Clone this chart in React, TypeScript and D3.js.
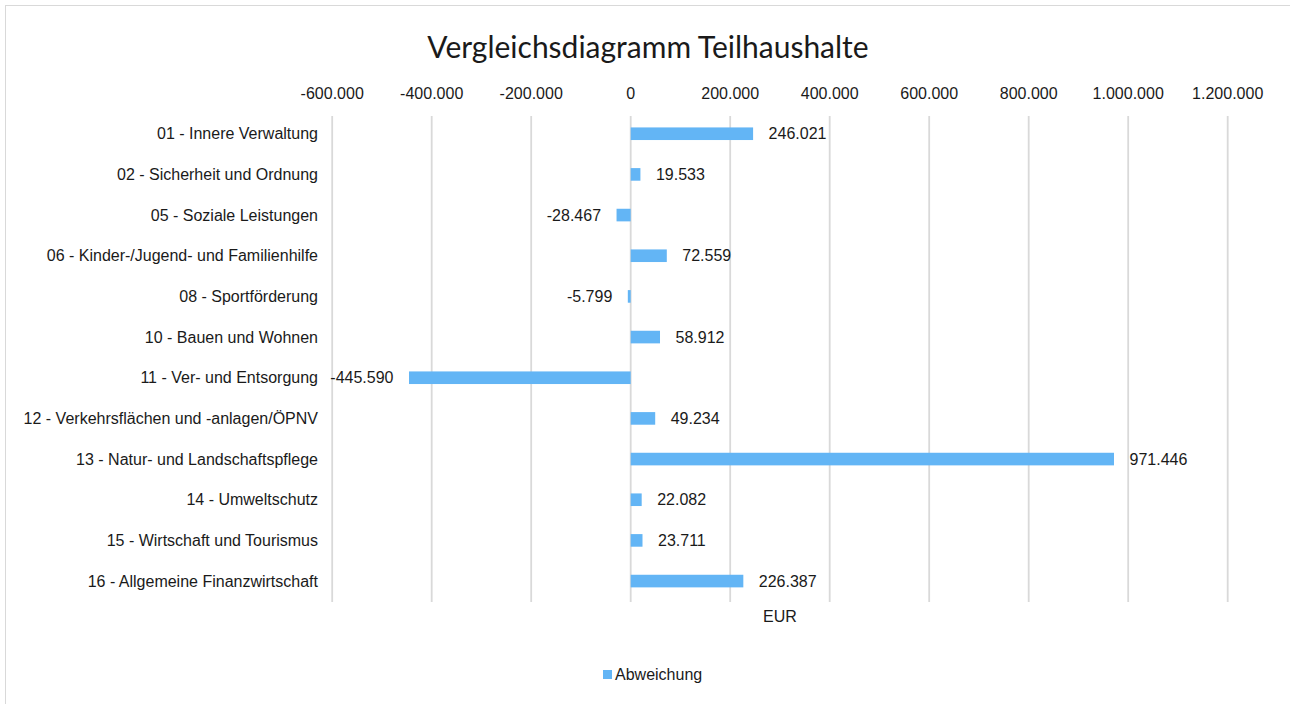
import React from "react";
import * as d3 from "d3";

const categories: string[] = [
  "01 - Innere Verwaltung",
  "02 - Sicherheit und Ordnung",
  "05 - Soziale Leistungen",
  "06 - Kinder-/Jugend- und Familienhilfe",
  "08 - Sportförderung",
  "10 - Bauen und Wohnen",
  "11 - Ver- und Entsorgung",
  "12 - Verkehrsflächen und -anlagen/ÖPNV",
  "13 - Natur- und Landschaftspflege",
  "14 - Umweltschutz",
  "15 - Wirtschaft und Tourismus",
  "16 - Allgemeine Finanzwirtschaft",
];
const values: number[] = [246021, 19533, -28467, 72559, -5799, 58912, -445590, 49234, 971446, 22082, 23711, 226387];
const ticks: number[] = [-600000, -400000, -200000, 0, 200000, 400000, 600000, 800000, 1000000, 1200000];
const seriesName = "Abweichung";
const axisTitle = "EUR";
const title = "Vergleichsdiagramm Teilhaushalte";

const fmt = (v: number) => {
  if (v === 0) return "0";
  const s = Math.abs(v).toString().replace(/\B(?=(\d{3})+(?!\d))/g, ".");
  return (v < 0 ? "-" : "") + s;
};

export default function App() {
  const W = 1290, H = 704;
  const x = d3.scaleLinear().domain([-600000, 1200000]).range([332.2, 1227.7]);
  const y = d3.scaleBand<string>().domain(categories).range([113.4, 601.4]).paddingInner(0.69).paddingOuter(0.345);
  const bh = y.bandwidth();
  const color = "#63b5f5";
  const font = "'Liberation Sans', Arial, sans-serif";
  const fs = 16;
  const textColor = "#1a1a1a";
  return (
    <svg width={W} height={H} style={{ position: "absolute", left: 0, top: 0, background: "#fff" }}>
      <rect x={5.5} y={5.5} width={1300} height={720} fill="#fff" stroke="#d9d9d9" strokeWidth={1} />
      <text x={648} y={58} textAnchor="middle" fontFamily="Lato, 'Open Sans', sans-serif" fontSize={30} fill={textColor}>
        {title}
      </text>
      {ticks.map((t) => (
        <g key={t}>
          <line x1={x(t)} x2={x(t)} y1={116} y2={602} stroke="#d9d9d9" strokeWidth={1.8} />
          <text x={x(t)} y={99} textAnchor="middle" fontFamily={font} fontSize={fs} fill={textColor}>
            {fmt(t)}
          </text>
        </g>
      ))}
      {categories.map((c, i) => {
        const v = values[i];
        const yc = (y(c) as number) + bh / 2;
        const x0 = x(Math.min(0, v));
        const x1 = x(Math.max(0, v));
        return (
          <g key={c}>
            <text x={318} y={yc} dy="0.35em" textAnchor="end" fontFamily={font} fontSize={fs} fill={textColor}>
              {c}
            </text>
            <rect x={x0} y={y(c)} width={x1 - x0} height={bh} fill={color} />
            <text
              x={v >= 0 ? x1 + 15.5 : x0 - 15.5}
              y={yc}
              dy="0.35em"
              textAnchor={v >= 0 ? "start" : "end"}
              fontFamily={font}
              fontSize={fs}
              fill={textColor}
            >
              {fmt(v)}
            </text>
          </g>
        );
      })}
      <text x={(x(-600000) + x(1200000)) / 2} y={616} dy="0.35em" textAnchor="middle" fontFamily={font} fontSize={fs} fill={textColor}>
        {axisTitle}
      </text>
      <rect x={603} y={670} width={9} height={9} fill={color} />
      <text x={615} y={674.5} dy="0.35em" fontFamily={font} fontSize={fs} fill={textColor}>
        {seriesName}
      </text>
    </svg>
  );
}
